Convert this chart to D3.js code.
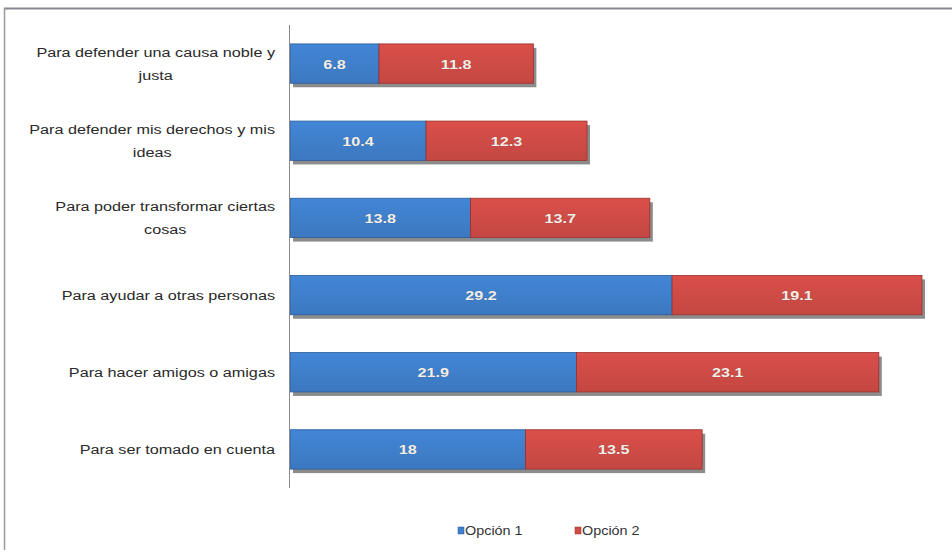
<!DOCTYPE html>
<html>
<head>
<meta charset="utf-8">
<script src="https://cdn.jsdelivr.net/npm/d3@7"></script>
<style>
  body { margin: 0; background: #fff; }
  svg { display: block; }
  text { font-family: "Liberation Sans", Arial, sans-serif; }
</style>
</head>
<body>
<svg id="chart" width="952" height="555"></svg>
<script>
const categories = [
  ["Para defender una causa noble y", "justa"],
  ["Para defender mis derechos y mis", "ideas"],
  ["Para poder transformar ciertas", "cosas"],
  ["Para ayudar a otras personas"],
  ["Para hacer amigos o amigas"],
  ["Para ser tomado en cuenta"]
];
const option1 = [6.8, 10.4, 13.8, 29.2, 21.9, 18];
const option2 = [11.8, 12.3, 13.7, 19.1, 23.1, 13.5];
const seriesNames = ["Opción 1", "Opción 2"];
const seriesColors = ["#3f7fcb", "#cf4b46"];
const seriesEdge = ["#2a5c9c", "#9c302c"];

const svg = d3.select("#chart");
const W = 952, H = 555;
const SX = 1.2; // horizontal stretch of the scanned text

// frame
svg.append("line").attr("x1", 4).attr("x2", W).attr("y1", 8.5).attr("y2", 8.5)
  .attr("stroke", "#8a8590").attr("stroke-width", 2);
svg.append("line").attr("x1", 4.5).attr("x2", 4.5).attr("y1", 8).attr("y2", 550)
  .attr("stroke", "#9a9a9a").attr("stroke-width", 1.5);

const x = d3.scaleLinear().domain([0, 48.3]).range([290, 922]);
const y = d3.scaleBand().domain(d3.range(categories.length)).range([25, 488]).paddingInner(0.49).paddingOuter(0.245);

const defs = svg.append("defs");
seriesColors.forEach((c, i) => {
  const g = defs.append("linearGradient").attr("id", "g" + i).attr("x1", 0).attr("x2", 0).attr("y1", 0).attr("y2", 1);
  g.append("stop").attr("offset", "0%").attr("stop-color", d3.color(c).brighter(0.15));
  g.append("stop").attr("offset", "100%").attr("stop-color", d3.color(c).darker(0.15));
});

const stacks = categories.map((c, i) => [
  { s: 0, x0: 0, x1: option1[i], v: option1[i], i },
  { s: 1, x0: option1[i], x1: option1[i] + option2[i], v: option2[i], i }
]);

// shadows
svg.append("g").selectAll("rect").data(stacks).join("rect")
  .attr("x", d => x(0) + 3)
  .attr("y", (d, i) => y(i) + 4)
  .attr("width", d => x(d[1].x1) - x(0))
  .attr("height", y.bandwidth())
  .attr("fill", "#8c8c8c");

const bars = svg.append("g");
stacks.forEach((st, i) => {
  st.forEach(seg => {
    bars.append("rect")
      .attr("x", x(seg.x0))
      .attr("y", y(i))
      .attr("width", x(seg.x1) - x(seg.x0))
      .attr("height", y.bandwidth())
      .attr("fill", `url(#g${seg.s})`)
      .attr("stroke", seriesEdge[seg.s])
      .attr("stroke-width", 0.8);
    const cx = (x(seg.x0) + x(seg.x1)) / 2;
    bars.append("g")
      .attr("transform", `translate(${cx},${y(i) + y.bandwidth() / 2 + 5}) scale(${SX},1)`)
      .append("text")
      .attr("text-anchor", "middle")
      .attr("font-size", 13.5)
      .attr("font-weight", "bold")
      .attr("fill", "#f2eee8")
      .attr("stroke", "rgba(60,60,60,0.35)")
      .attr("stroke-width", 0.6)
      .attr("paint-order", "stroke")
      .text(seg.v);
  });
});

// axis line
svg.append("line").attr("x1", 289.5).attr("x2", 289.5).attr("y1", 25).attr("y2", 488)
  .attr("stroke", "#8a8a8a").attr("stroke-width", 1);

// category labels (multi-line labels centered, block right-aligned)
const right = 275;
const labelG = svg.append("g");
categories.forEach((lines, i) => {
  const cy = y(i) + y.bandwidth() / 2;
  const lh = 23;
  const g = labelG.append("g").attr("transform", `translate(${right},0) scale(${SX},1)`);
  const t = g.append("text").attr("font-size", 13.5).attr("fill", "#2a2a2a");
  const spans = lines.map((ln, k) =>
    t.append("tspan").attr("y", cy + 5 + (k - (lines.length - 1) / 2) * lh).text(ln));
  const maxW = d3.max(spans.map(s => s.node().getComputedTextLength()));
  spans.forEach(s => s.attr("x", -maxW / 2).attr("text-anchor", "middle"));
});

// legend
const leg = svg.append("g");
const legX = [458, 575];
seriesNames.forEach((n, i) => {
  leg.append("rect").attr("x", legX[i]).attr("y", 527).attr("width", 6).attr("height", 7)
    .attr("fill", seriesColors[i]).attr("stroke", seriesEdge[i]).attr("stroke-width", 0.5);
  leg.append("g").attr("transform", `translate(${legX[i] + 7},535) scale(${SX},1)`)
    .append("text").attr("font-size", 12).attr("fill", "#333").text(n);
});
</script>
</body>
</html>
